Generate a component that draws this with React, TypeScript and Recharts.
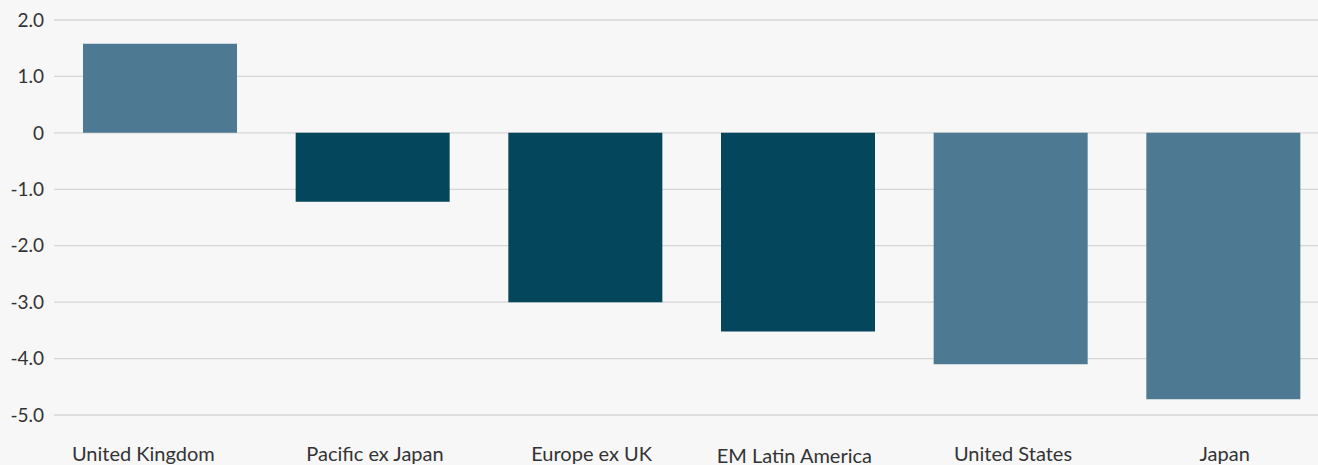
import React from "react";
import { BarChart, Bar, XAxis, YAxis, CartesianGrid, Cell } from "recharts";

const categories = ["United Kingdom", "Pacific ex Japan", "Europe ex UK", "EM Latin America", "United States", "Japan"];
const values = [1.58, -1.22, -3.0, -3.52, -4.1, -4.72];
const tones = ["light", "dark", "dark", "dark", "light", "light"];
const yTicks = [2, 1, 0, -1, -2, -3, -4, -5];

const COLORS: Record<string, string> = { light: "#4e7993", dark: "#04465b" };
const labelShift = [-17, 2, 6, -4, 2, 1];
const labelDrop = [0, 0, 0, 2, 0, 0];

const data = categories.map((name, i) => ({ name, value: values[i], tone: tones[i] }));

const fmt = (v: number) => (v === 0 ? "0" : v.toFixed(1));

const XTick = (props: any) => {
  const { x, y, payload, index } = props;
  return (
    <text
      x={x + (labelShift[index] || 0)}
      y={y + (labelDrop[index] || 0)}
      dy="0.71em"
      textAnchor="middle"
      fill="#333333"
      fontSize={20}
      fontFamily="Lato"
    >
      {payload.value}
    </text>
  );
};

export default function App() {
  return (
    <div style={{ position: "absolute", left: 0, top: 0, width: 1318, height: 465, overflow: "hidden", background: "#f7f7f7" }}>
      <BarChart width={1330} height={470} data={data} margin={{ top: 20, right: 0, bottom: 25, left: 0 }}>
        <CartesianGrid vertical={false} stroke="#d6d6d6" strokeWidth={1.3} />
        <XAxis
          dataKey="name"
          axisLine={false}
          tickLine={false}
          interval={0}
          height={30}
          tick={<XTick />}
          tickMargin={26}
        />
        <YAxis
          domain={[-5, 2]}
          ticks={yTicks}
          tickFormatter={fmt}
          axisLine={false}
          tickLine={false}
          width={54}
          tickMargin={10}
          tickSize={0}
          tick={{ fill: "#333333", fontSize: 19, fontFamily: "Lato" }}
        />
        <Bar dataKey="value" barSize={154} isAnimationActive={false}>
          {data.map((d, i) => (
            <Cell key={i} fill={COLORS[d.tone]} />
          ))}
        </Bar>
      </BarChart>
    </div>
  );
}
